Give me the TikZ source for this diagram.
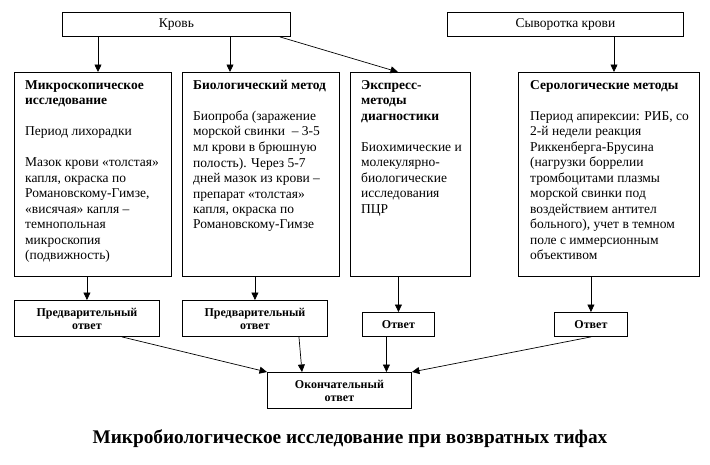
\documentclass[tikz,border=0pt]{standalone}
\usepackage{fontspec}
\setmainfont{Liberation Serif}
\usetikzlibrary{arrows.meta, positioning}

\begin{document}
\begin{tikzpicture}[
    x=1pt, y=-1pt,
    bigbox/.style={
        rectangle,
        draw,
        line width=0.9pt,
        minimum height=204pt,
        inner sep=0pt,
        anchor=north west
    },
    srcbox/.style={
        rectangle,
        draw,
        line width=0.9pt,
        minimum height=24pt,
        inner sep=0pt,
        anchor=north west,
        font=\fontsize{13.5}{15}\selectfont
    },
    ansbox/.style={
        rectangle,
        draw,
        line width=0.9pt,
        inner sep=0pt,
        anchor=north west,
        align=center,
        font=\bfseries\fontsize{12}{13}\selectfont
    },
    boxtext/.style={
        inner sep=0pt,
        align=left,
        anchor=north west,
        font=\fontsize{13.5}{15.5}\selectfont
    },
    arr/.style={
        line width=0.7pt,
        -{Triangle[length=7.5pt, width=7pt]}
    }
]
\useasboundingbox (0,0) rectangle (710,464);

% sources
\node[srcbox, minimum width=228pt] (krov) at (62,12) {Кровь};
\node[srcbox, minimum width=236pt] (syv) at (447,12) {Сыворотка крови};

% methods
\node[bigbox, minimum width=157pt] (micro) at (14,72) {};
\node[bigbox, minimum width=157pt] (bio) at (182,72) {};
\node[bigbox, minimum width=120pt] (expr) at (350,72) {};
\node[bigbox, minimum width=181pt] (sero) at (518,72) {};

\node[boxtext] (microtxt) at (25,80) {\textbf{Микроскопическое}\\ \textbf{исследование}\\[15.5pt]
    Период лихорадки\\[15.5pt]
    Мазок крови «толстая»\\ капля, окраска по\\ Романовскому-Гимзе,\\ «висячая» капля –\\
    темнопольная\\ микроскопия\\ (подвижность)};
\node[boxtext] (biotxt) at (193,80) {\textbf{Биологический метод}\\[15.5pt]
    Биопроба (заражение\\ морской свинки ~– 3-5\\ мл крови в брюшную\\ полость). Через 5-7\\
    дней мазок из крови –\\ препарат «толстая»\\ капля, окраска по\\ Романовскому-Гимзе};
\node[boxtext] (exprtxt) at (361,80) {\textbf{Экспресс-}\\ \textbf{методы}\\ \textbf{диагностики}\\[15.5pt]
    Биохимические и\\ молекулярно-\\ биологические\\ исследования\\ ПЦР};
\node[boxtext] (serotxt) at (530,80) {\textbf{Серологические методы}\\[15.5pt]
    Период апирексии: РИБ, со\\ 2-й недели реакция\\ Риккенберга-Брусина\\ (нагрузки боррелии\\
    тромбоцитами плазмы\\ морской свинки под\\ воздействием антител\\ больного), учет в темном\\
    поле с иммерсионным\\ объективом};

% answers
\node[ansbox, minimum width=145pt, minimum height=36pt] (pre1) at (14,300) {Предварительный\\ ответ};
\node[ansbox, minimum width=145pt, minimum height=36pt] (pre2) at (182,300) {Предварительный\\ ответ};
\node[ansbox, minimum width=72pt, minimum height=24pt] (otv3) at (362,312) {Ответ};
\node[ansbox, minimum width=73pt, minimum height=24pt] (otv4) at (554,312) {Ответ};
\node[ansbox, minimum width=144pt, minimum height=36pt] (final) at (267,372) {Окончательный\\ ответ};

\node[font=\bfseries\fontsize{19.3}{22}\selectfont] (title) at (350,439) {Микробиологическое исследование при возвратных тифах};

% arrows
\draw[arr] ([xshift=36pt]krov.south west) -- ([xshift=36pt]krov.south west |- micro.north);
\draw[arr] ([xshift=168pt]krov.south west) -- ([xshift=168pt]krov.south west |- bio.north);
\draw[arr] ([xshift=-11pt]krov.south east) -- ([xshift=48pt]expr.north west);
\draw[arr] ([xshift=167pt]syv.south west) -- ([xshift=167pt]syv.south west |- sero.north);

\draw[arr] (micro.south -| pre1.north) -- (pre1.north);
\draw[arr] (bio.south -| pre2.north) -- (pre2.north);
\draw[arr] (expr.south -| otv3.north) -- (otv3.north);
\draw[arr] (sero.south -| otv4.north) -- (otv4.north);

\draw[arr] ([xshift=35pt]pre1.south) -- (final.north west);
\draw[arr] ([xshift=44pt]pre2.south) -- ([xshift=35pt]final.north west);
\draw[arr] ([xshift=-12pt]otv3.south) -- ([xshift=-12pt]otv3.south |- final.north);
\draw[arr] (otv4.south) -- (final.north east);
\end{tikzpicture}
\end{document}
